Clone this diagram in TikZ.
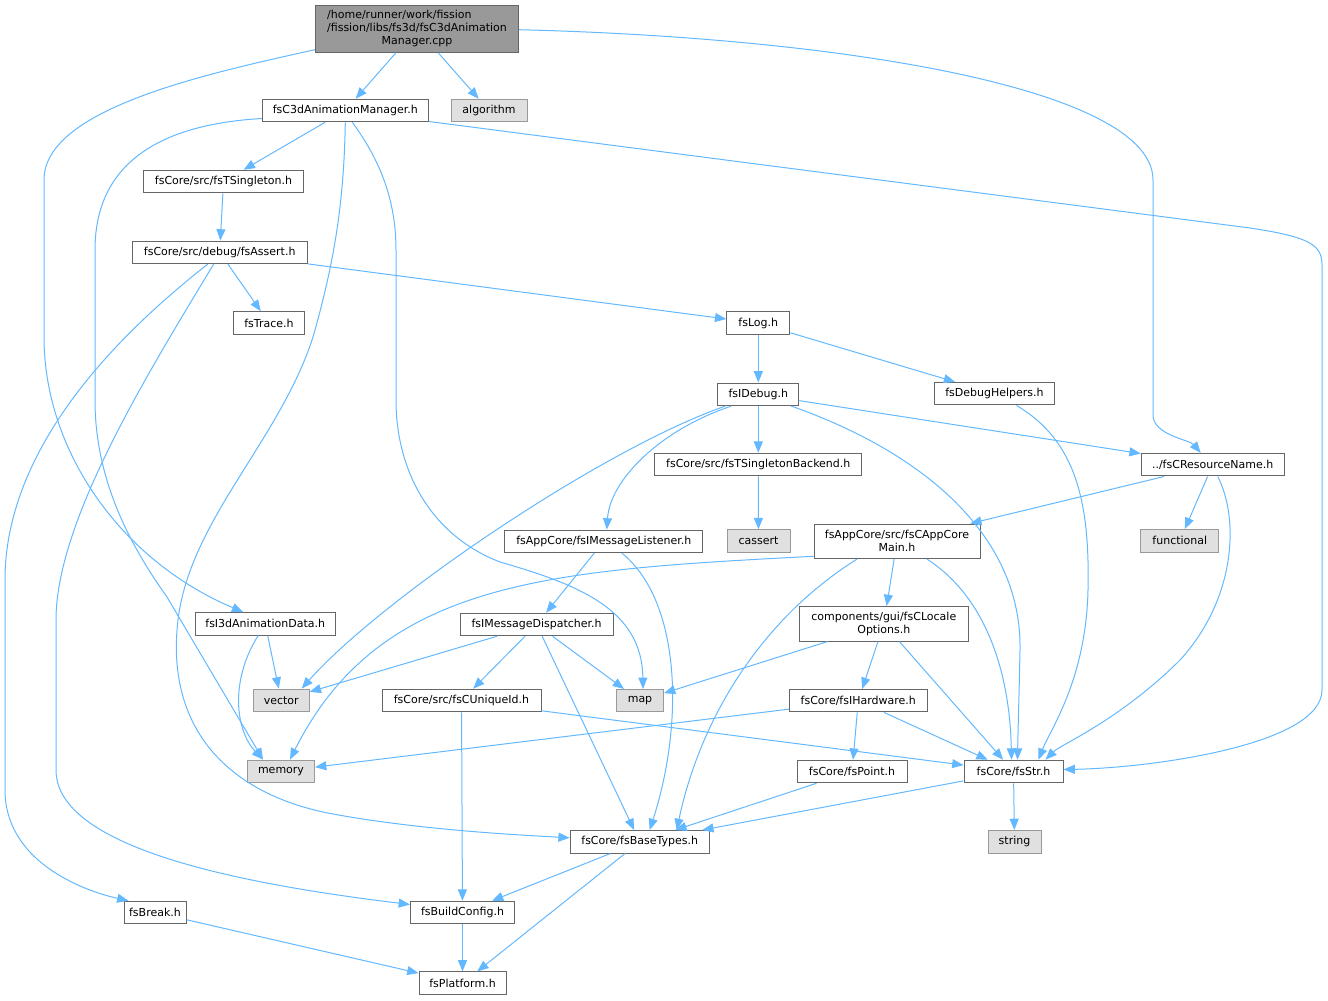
\documentclass[tikz,border=0pt]{standalone}
\usepackage{fontspec}
\setmainfont{DejaVu Sans}
\usetikzlibrary{arrows.meta,calc}
\definecolor{edgec}{HTML}{63B8FF}
\definecolor{bordc}{HTML}{666666}
\definecolor{extfill}{HTML}{E0E0E0}
\definecolor{extbord}{HTML}{999999}
\definecolor{mainfill}{HTML}{999999}
\tikzset{
  fbox/.style={draw=bordc, fill=white, line width=0.75pt, inner sep=0pt,
    minimum height=16.9pt, align=center,
    font=\fontsize{8.25pt}{9.75pt}\selectfont},
  extbox/.style={fbox, draw=extbord, fill=extfill},
  mainbox/.style={fbox, draw=bordc, fill=mainfill, minimum height=35.25pt},
  twoline/.style={minimum height=25.9pt},
  wd/.style={minimum width=#1*0.75pt},
  dep/.style={draw=edgec, line width=0.75pt, -{Triangle[length=8.5pt,width=6.75pt]}}
}
\begin{document}
\begin{tikzpicture}[x=0.75pt,y=-0.75pt]
\useasboundingbox (0,0) rectangle (1328,1000);
% nodes
\node[mainbox, wd=203] (main) at (417,28.7) {\begin{tabular}{@{}l@{}}/home/runner/work/fission\\/fission/libs/fs3d/fsC3dAnimation\\\multicolumn{1}{@{}c@{}}{Manager.cpp}\end{tabular}};
\node[fbox, wd=166] (c3d) at (345.3,110.5) {fsC3dAnimationManager.h};
\node[extbox, wd=76] (algo) at (489,110.5) {algorithm};
\node[fbox, wd=160] (tsing) at (223.5,181.5) {fsCore/src/fsTSingleton.h};
\node[fbox, wd=175] (assert) at (219.7,252.3) {fsCore/src/debug/fsAssert.h};
\node[fbox, wd=71] (trace) at (269,323) {fsTrace.h};
\node[fbox, wd=63] (log) at (758.3,323.2) {fsLog.h};
\node[fbox, wd=81] (idebug) at (758.3,394.3) {fsIDebug.h};
\node[fbox, wd=120] (dbgh) at (994.5,393.7) {fsDebugHelpers.h};
\node[fbox, wd=207] (backend) at (758.3,464.5) {fsCore/src/fsTSingletonBackend.h};
\node[fbox, wd=143] (resname) at (1212.7,464.7) {../fsCResourceName.h};
\node[extbox, wd=63] (cassert) at (758.5,541) {cassert};
\node[fbox, wd=198] (listener) at (603.8,541.3) {fsAppCore/fsIMessageListener.h};
\node[fbox, twoline, wd=166] (appmain) at (897,541.3) {fsAppCore/src/fsCAppCore\\Main.h};
\node[extbox, wd=78] (functional) at (1179.8,540.8) {functional};
\node[fbox, wd=140] (i3d) at (265.2,623.8) {fsI3dAnimationData.h};
\node[fbox, wd=153] (disp) at (536.6,624.5) {fsIMessageDispatcher.h};
\node[fbox, twoline, wd=169] (locale) at (883.8,623.8) {components/gui/fsCLocale\\Options.h};
\node[extbox, wd=56] (vector) at (281.2,700.3) {vector};
\node[extbox, wd=47] (map) at (640,700.7) {map};
\node[fbox, wd=159] (uid) at (461.5,700.5) {fsCore/src/fsCUniqueId.h};
\node[fbox, wd=138] (hw) at (858.3,700.7) {fsCore/fsIHardware.h};
\node[extbox, wd=67] (memory) at (281,771.3) {memory};
\node[fbox, wd=110] (point) at (852,771.5) {fsCore/fsPoint.h};
\node[fbox, wd=99] (str) at (1013.5,771.5) {fsCore/fsStr.h};
\node[fbox, wd=139] (base) at (639.7,841.8) {fsCore/fsBaseTypes.h};
\node[extbox, wd=53] (string) at (1014.5,841.8) {string};
\node[fbox, wd=62] (break) at (155,912.5) {fsBreak.h};
\node[fbox, wd=104] (build) at (462.5,912.5) {fsBuildConfig.h};
\node[fbox, wd=87] (platform) at (462.5,983.2) {fsPlatform.h};
% edges
\draw[dep] (main) -- (c3d);
\draw[dep] (main) -- (algo);
\draw[dep] ($(main.south west)+(0,-3)$) .. controls (200,75) and (44,110) .. (44,180) -- (44,337) .. controls (44,450) and (120,560) .. ($(i3d.north)+(-22,0)$);
\draw[dep] ($(main.east)+(0,1)$) .. controls (850,38) and (1153,90) .. (1153,180) -- (1153,415) .. controls (1153,435) and (1190,440) .. ($(resname.north)+(-12,0)$);
\draw[dep] (c3d) -- (tsing);
\draw[dep] ($(c3d.west)+(0,8)$) .. controls (150,125) and (95,170) .. (95,250) -- (95,400) .. controls (95,480) and (130,545) .. (167,597) -- ($(memory.north)+(-18,0)$);
\draw[dep] (c3d.south) .. controls (344,200) and (335,260) .. (313,337) .. controls (280,440) and (190,520) .. (178,620) .. controls (165,730) and (230,795) .. (333,814) .. controls (420,830) and (520,835) .. ($(base.west)+(0,-4)$);
\draw[dep] ($(c3d.south)+(7,0)$) .. controls (380,160) and (396,200) .. (396,250) -- (396,400) .. controls (396,470) and (430,535) .. (500,562) .. controls (580,585) and (642,610) .. ($(map.north)+(3,0)$);
\draw[dep] ($(c3d.east)+(0,11)$) -- (1250,228) .. controls (1310,237) and (1322,245) .. (1322,265) -- (1322,690) .. controls (1322,745) and (1150,768) .. ($(str.east)+(0,-2)$);
\draw[dep] (tsing) -- (assert);
\draw[dep] (assert) -- (trace);
\draw[dep] (assert) -- (log);
\draw[dep] ($(assert.south)+(-12,0)$) .. controls (150,310) and (5,430) .. (5,580) -- (5,790) .. controls (5,860) and (80,890) .. ($(break.north west)+(5,0)$);
\draw[dep] ($(assert.south)+(-6,0)$) .. controls (150,370) and (56,520) .. (56,620) -- (56,770) .. controls (56,850) and (250,885) .. ($(build.west)+(0,-8)$);
\draw[dep] (log) -- (idebug);
\draw[dep] (log) -- (dbgh);
\draw[dep] (idebug) -- (backend);
\draw[dep] (idebug) -- (resname);
\draw[dep] ($(idebug.south east)+(-8,0)$) .. controls (930,455) and (1022,540) .. (1020,650) .. controls (1019,700) and (1018,730) .. ($(str.north)+(4,0)$);
\draw[dep] ($(idebug.south west)+(8,0)$) .. controls (600,450) and (380,600) .. ($(vector.north east)+(-8,0)$);
\draw[dep] ($(idebug.south west)+(14,0)$) .. controls (660,430) and (610,480) .. ($(listener.north)+(3,0)$);
\draw[dep] ($(dbgh.south)+(22,0)$) .. controls (1075,440) and (1090,500) .. (1088,590) .. controls (1086,680) and (1050,730) .. ($(str.north east)+(-25,0)$);
\draw[dep] (backend) -- (cassert);
\draw[dep] (resname) -- (appmain);
\draw[dep] (resname) -- (functional);
\draw[dep] ($(resname.south)+(5,0)$) .. controls (1240,520) and (1235,600) .. (1180,660) .. controls (1120,720) and (1060,745) .. ($(str.north east)+(-18,0)$);
\draw[dep] (listener) -- (disp);
\draw[dep] ($(listener.south)+(18,0)$) .. controls (680,600) and (685,720) .. ($(base.north)+(10,0)$);
\draw[dep] ($(appmain.west)+(0,15)$) .. controls (550,570) and (380,580) .. ($(memory.north)+(9,0)$);
\draw[dep] ($(appmain.south)+(-40,0)$) .. controls (760,620) and (700,720) .. ($(base.north)+(37,0)$);
\draw[dep] (appmain) -- (locale);
\draw[dep] ($(appmain.south)+(30,0)$) .. controls (990,600) and (1010,680) .. ($(str.north)+(-2,0)$);
\draw[dep] (i3d) -- (vector);
\draw[dep] ($(i3d.south)+(-7,0)$) .. controls (230,680) and (235,730) .. ($(memory.north)+(-18,0)$);
\draw[dep] (disp) -- (vector);
\draw[dep] (disp) -- (map);
\draw[dep] (disp) -- (uid);
\draw[dep] (disp) -- (base);
\draw[dep] (locale) -- (map);
\draw[dep] (locale) -- (hw);
\draw[dep] (locale) -- (str);
\draw[dep] (uid) -- (build);
\draw[dep] (uid) -- (str);
\draw[dep] (hw) -- (memory);
\draw[dep] (hw) -- (point);
\draw[dep] (hw) -- (str);
\draw[dep] (point) -- (base);
\draw[dep] (str) -- (base);
\draw[dep] (str) -- (string);
\draw[dep] (base) -- (build);
\draw[dep] (base) -- (platform);
\draw[dep] (build) -- (platform);
\draw[dep] (break) -- (platform);
\end{tikzpicture}
\end{document}
